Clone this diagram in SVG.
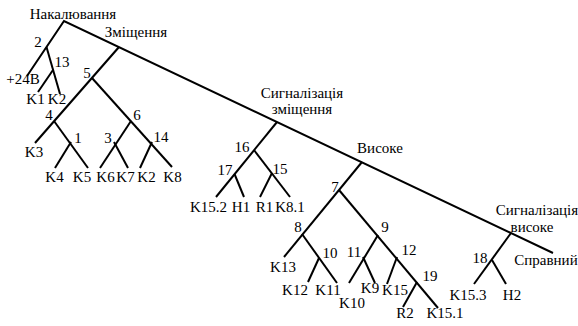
<svg xmlns="http://www.w3.org/2000/svg" width="578" height="326" viewBox="0 0 578 326">
<style>
text{font-family:'Liberation Serif',serif;font-size:15px;fill:#000;text-anchor:middle}
.c line,.c polyline{stroke:#000;stroke-width:2;fill:none;stroke-linecap:butt}
</style>
<rect width="578" height="326" fill="#fff"/>
<g class="c" id="connectors">
<polyline points="27,76 64,21 553,253"/>
<line x1="46.5" y1="47" x2="60" y2="94"/>
<line x1="53" y1="70" x2="38" y2="92"/>
<line x1="119" y1="47" x2="35" y2="143"/>
<line x1="92" y1="78" x2="172" y2="167"/>
<line x1="54" y1="121" x2="88" y2="168"/>
<line x1="71" y1="142" x2="55" y2="168"/>
<line x1="131" y1="121" x2="100" y2="168"/>
<line x1="114" y1="142" x2="128" y2="168"/>
<line x1="152" y1="142" x2="140" y2="168"/>
<line x1="277" y1="122" x2="216" y2="197"/>
<line x1="254" y1="150" x2="290" y2="197"/>
<line x1="234.5" y1="174" x2="244" y2="197"/>
<line x1="272" y1="173" x2="260" y2="197"/>
<line x1="362" y1="162" x2="284" y2="257"/>
<line x1="339" y1="190" x2="438" y2="308"/>
<line x1="302" y1="234" x2="337" y2="283"/>
<line x1="319" y1="258" x2="308" y2="282"/>
<line x1="378" y1="235" x2="349" y2="283"/>
<line x1="363" y1="257" x2="375" y2="283"/>
<line x1="397" y1="257" x2="387" y2="284"/>
<line x1="417" y1="282" x2="403" y2="307"/>
<line x1="511" y1="233" x2="474" y2="284"/>
<line x1="492" y1="260" x2="506" y2="284"/>
</g>
<g id="labels" font-family="Liberation Serif">
<g id="n-root"><text x="73" y="19">Накалювання</text></g>
<g id="n-zmishchennia"><text x="136" y="37">Зміщення</text></g>
<g id="n2"><text x="38" y="47">2</text></g>
<g id="n13"><text x="62" y="67">13</text></g>
<g id="l-24v"><text x="23" y="84">+24В</text></g>
<g id="n5"><text x="87" y="78">5</text></g>
<g id="l-k1"><text x="35.5" y="104">K1</text></g>
<g id="l-k2a"><text x="57" y="104">K2</text></g>
<g id="n4"><text x="49" y="120">4</text></g>
<g id="n6"><text x="137" y="120">6</text></g>
<g id="l-k3"><text x="34" y="157">K3</text></g>
<g id="n1"><text x="78" y="143">1</text></g>
<g id="n3"><text x="108" y="143">3</text></g>
<g id="n14"><text x="161" y="142">14</text></g>
<g id="l-k4"><text x="54.5" y="182">K4</text></g>
<g id="l-k5"><text x="82" y="182">K5</text></g>
<g id="l-k6"><text x="105.5" y="182">K6</text></g>
<g id="l-k7"><text x="125.5" y="182">K7</text></g>
<g id="l-k2b"><text x="146.5" y="182">K2</text></g>
<g id="l-k8"><text x="172.5" y="182">K8</text></g>
<g id="n-sig-zm"><text x="302" y="98">Сигналізація</text><text x="302" y="114">зміщення</text></g>
<g id="n16"><text x="242" y="152">16</text></g>
<g id="n17"><text x="225" y="175">17</text></g>
<g id="n15"><text x="280" y="174">15</text></g>
<g id="l-k152"><text x="208.5" y="212">K15.2</text></g>
<g id="l-h1"><text x="241" y="212">H1</text></g>
<g id="l-r1"><text x="264.5" y="212">R1</text></g>
<g id="l-k81"><text x="290" y="212">K8.1</text></g>
<g id="n-vysoke"><text x="380" y="153">Високе</text></g>
<g id="n7"><text x="335" y="192">7</text></g>
<g id="n8"><text x="298" y="232">8</text></g>
<g id="n9"><text x="385" y="232">9</text></g>
<g id="n10"><text x="330" y="258">10</text></g>
<g id="n11"><text x="354" y="257">11</text></g>
<g id="n12"><text x="409" y="255">12</text></g>
<g id="n19"><text x="430" y="281">19</text></g>
<g id="l-k13"><text x="283" y="272">K13</text></g>
<g id="l-k12"><text x="295" y="295">K12</text></g>
<g id="l-k11"><text x="328" y="295">K11</text></g>
<g id="l-k10"><text x="352" y="308">K10</text></g>
<g id="l-k9"><text x="370" y="293">K9</text></g>
<g id="l-k15"><text x="395" y="295">K15</text></g>
<g id="l-r2"><text x="405" y="318">R2</text></g>
<g id="l-k151"><text x="445" y="318">K15.1</text></g>
<g id="n-sig-vys"><text x="537" y="215">Сигналізація</text><text x="532" y="232">високе</text></g>
<g id="n18"><text x="480" y="263">18</text></g>
<g id="l-k153"><text x="468" y="300">K15.3</text></g>
<g id="l-h2"><text x="512" y="300">H2</text></g>
<g id="l-spravnyi"><text x="546" y="265">Справний</text></g>
</g>
</svg>
